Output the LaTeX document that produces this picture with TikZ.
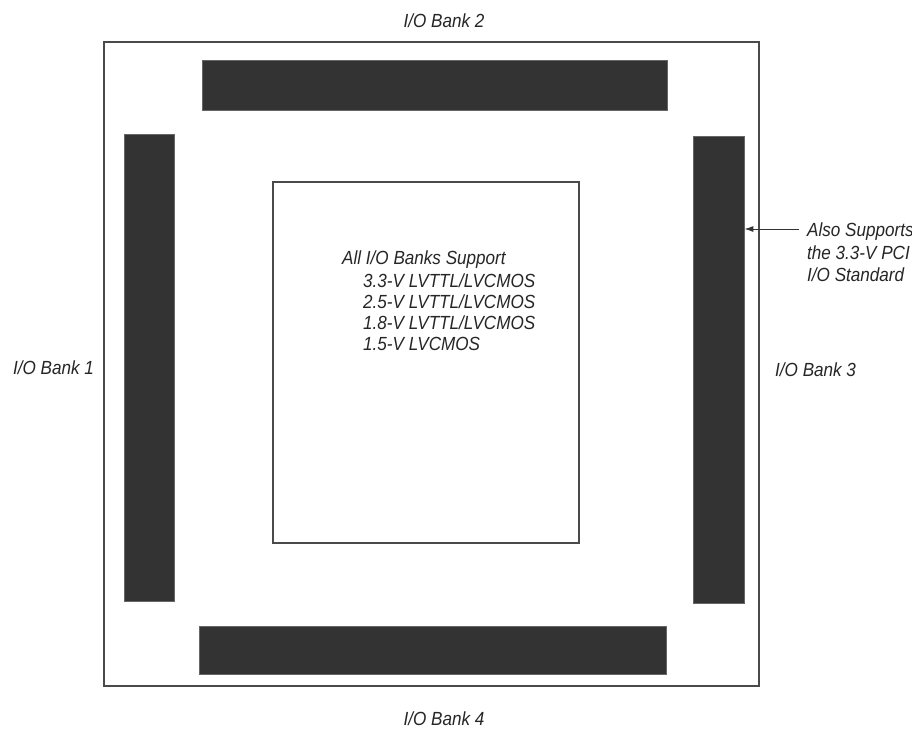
\documentclass[tikz,border=0pt]{standalone}
\usepackage{fontspec}
\setmainfont{Liberation Sans}[FakeStretch=0.9]
\usetikzlibrary{arrows.meta}
\definecolor{bardark}{HTML}{333333}
\definecolor{linegray}{HTML}{4A4A4A}
\begin{document}
\begin{tikzpicture}[x=1pt,y=-1pt,
  lbl/.style={inner sep=0pt, font=\fontsize{19}{22}\selectfont\itshape, text=black!85},
  bar/.style={draw=black!60, line width=0.8pt, fill=bardark, inner sep=0pt},
  frame/.style={draw=linegray, line width=1.4pt, inner sep=0pt}]
\useasboundingbox (0,0) rectangle (912,728);
\fill[white] (0,0) rectangle (912,728);
% outer box
\node[frame, minimum width=655pt, minimum height=644pt] (outer) at (431.5,364) {};
% bars
\node[bar, minimum width=465pt, minimum height=50pt] (topbar) at (434.5,85) {};
\node[bar, minimum width=467pt, minimum height=48pt] (botbar) at (432.5,650) {};
\node[bar, minimum width=50pt, minimum height=467pt] (leftbar) at (149,367.5) {};
\node[bar, minimum width=51pt, minimum height=467pt] (rightbar) at (718.5,369.5) {};
% inner box
\node[frame, minimum width=306pt, minimum height=361pt] (inner) at (426,362.5) {};
% inner text
\node[lbl, anchor=base west] (t0) at (342,264) {All I/O Banks Support};
\node[lbl, anchor=base west] (t1) at (363,287) {3.3-V LVTTL/LVCMOS};
\node[lbl, anchor=base west] (t2) at (363,308) {2.5-V LVTTL/LVCMOS};
\node[lbl, anchor=base west] (t3) at (363,329) {1.8-V LVTTL/LVCMOS};
\node[lbl, anchor=base west] (t4) at (363,350) {1.5-V LVCMOS};
% bank labels
\node[lbl, anchor=base] (b2) at (444,27.5) {I/O Bank 2};
\node[lbl, anchor=base] (b4) at (444,725) {I/O Bank 4};
\node[lbl, anchor=base west] (b1) at (13,374.5) {I/O Bank 1};
\node[lbl, anchor=base west] (b3) at (775,376.5) {I/O Bank 3};
% PCI note
\node[lbl, anchor=base west] (p1) at (807,236.5) {Also Supports};
\node[lbl, anchor=base west] (p2) at (807,259.5) {the 3.3-V PCI};
\node[lbl, anchor=base west] (p3) at (807,281) {I/O Standard};
\coordinate (astart) at (799,229);
\draw[line width=1pt, black!80, -{Latex[length=9pt,width=6pt]}] (astart) -- (rightbar.east |- astart);
\end{tikzpicture}
\end{document}
